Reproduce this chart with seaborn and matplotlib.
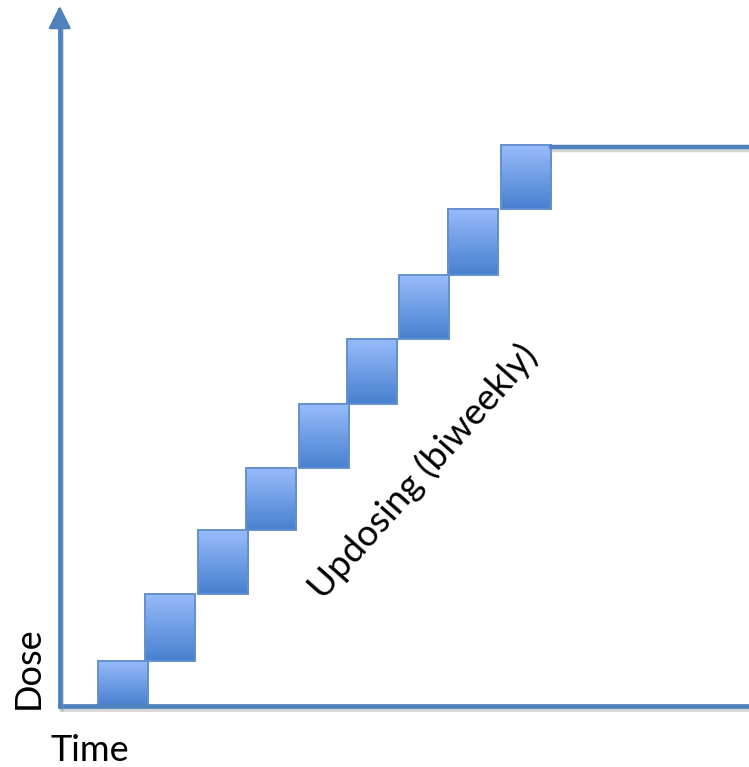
import numpy as np
import matplotlib
matplotlib.use("Agg")
import matplotlib.pyplot as plt
import matplotlib.patheffects as pe
from matplotlib.colors import LinearSegmentedColormap
import pandas as pd
import seaborn as sns

# Up-dosing schedule: each step starts every two weeks
step_start_weeks = [1.47, 3.33, 5.44, 7.34, 9.44, 11.35, 13.41, 15.36, 17.46]
step_width_weeks = 2.0
step_dose = [0.70, 1.74, 2.73, 3.69, 4.68, 5.69, 6.68, 7.71, 8.70]
maintenance_dose = 8.67
maintenance_end_week = 28.0
dose_axis_top = 10.86

x_label = "Time"
y_label = "Dose"
phase_label = "Updosing (biweekly)"

sns.set_theme(style="white")
plt.rcParams["font.family"] = ["Lato", "DejaVu Sans"]

AXIS_BLUE = "#4F81BD"
box_cmap = LinearSegmentedColormap.from_list("step", ["#4780CF", "#98BCFB"])
shadow = [pe.SimpleLineShadow(offset=(1.2, -2.2), shadow_color="#9a9a9a", alpha=0.4),
          pe.Normal()]

fig = plt.figure(figsize=(7.49, 7.67), dpi=100)
ax = fig.add_axes([0, 0, 1, 1])

# gradient-filled dose steps
grad = np.linspace(0, 1, 256).reshape(-1, 1)
bottoms = [0.0] + step_dose[:-1]
for x0, y0, y1 in zip(step_start_weeks, bottoms, step_dose):
    ax.imshow(grad, extent=[x0, x0 + step_width_weeks, y0, y1], origin="lower",
              cmap=box_cmap, aspect="auto", zorder=2, interpolation="bilinear")
    ax.add_patch(plt.Rectangle((x0, y0), step_width_weeks, y1 - y0, fill=False,
                               edgecolor="#6590CE", linewidth=1.4, zorder=3))

# maintenance plateau after the last step
plateau = pd.DataFrame({
    "week": [step_start_weeks[-1] + step_width_weeks, maintenance_end_week],
    "dose": [maintenance_dose, maintenance_dose],
})
sns.lineplot(data=plateau, x="week", y="dose", ax=ax, color=AXIS_BLUE,
             linewidth=3.2, zorder=4, path_effects=shadow)

# axes drawn as thick lines, the dose axis ending in an arrow
ax.plot([-0.12, maintenance_end_week], [0, 0], color=AXIS_BLUE, linewidth=3.4,
        solid_capstyle="butt", zorder=5, path_effects=shadow)
ax.plot([-0.05, -0.05], [-0.03, dose_axis_top - 0.3], color=AXIS_BLUE, linewidth=3.4,
        solid_capstyle="butt", zorder=5, path_effects=shadow)
ax.annotate("", xy=(-0.05, dose_axis_top), xytext=(-0.05, dose_axis_top - 0.5),
            arrowprops=dict(arrowstyle="-|>,head_length=0.72,head_width=0.36",
                            mutation_scale=19, color=AXIS_BLUE, linewidth=2.0,
                            shrinkA=0, shrinkB=0),
            zorder=6)

ax.text(-1.28, 0.59, y_label, rotation=90, ha="center", va="center",
        fontsize=26, color="black")
ax.text(1.15, -0.69, x_label, ha="center", va="center", fontsize=26, color="black")
ax.text(14.37, 3.63, phase_label, rotation=48.5, rotation_mode="anchor",
        ha="center", va="center", fontsize=26.5, color="black")

ax.set_xlim(-2.42, 27.3)
ax.set_ylim(-0.946, 10.95)
ax.axis("off")

fig.savefig("out.png", dpi=100, facecolor="white")
